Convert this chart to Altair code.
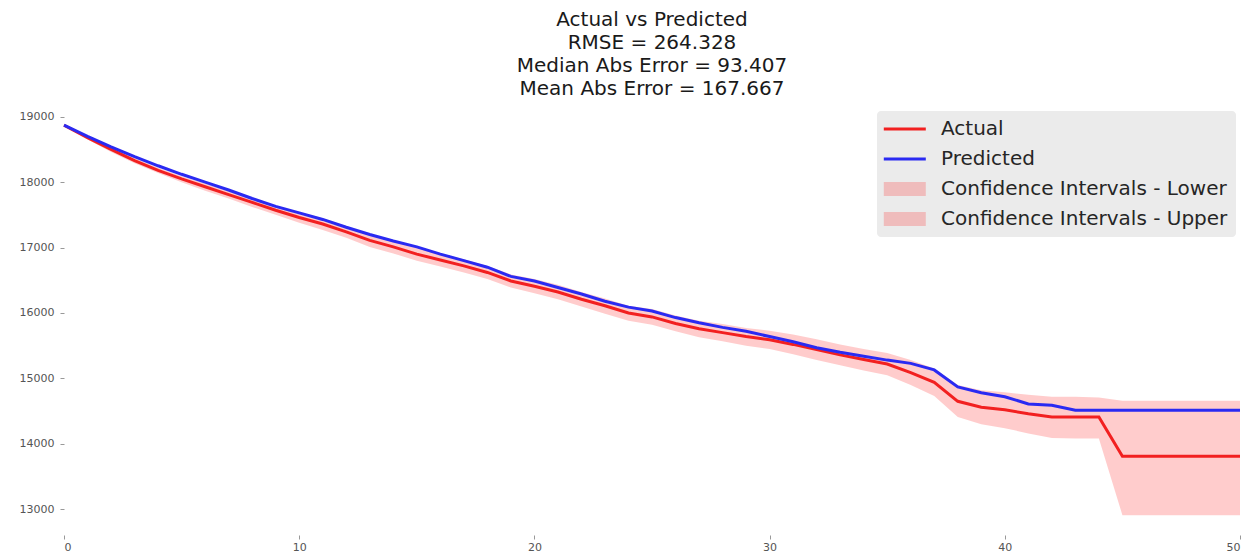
import altair as alt
import pandas as pd

steps = list(range(51))

actual = [18870, 18680, 18500, 18330, 18180, 18050, 17930, 17810, 17690, 17570,
          17460, 17360, 17240, 17110, 17010, 16900, 16810, 16720, 16620, 16490,
          16410, 16320, 16210, 16110, 16000, 15940, 15840, 15760, 15700, 15640,
          15590, 15520, 15440, 15360, 15290, 15220, 15090, 14940, 14650, 14560,
          14520, 14460, 14410, 14410, 14410, 13810, 13810, 13810, 13810, 13810,
          13810]

predicted = [18870, 18700, 18540, 18390, 18250, 18120, 18000, 17880, 17750, 17630,
             17530, 17430, 17310, 17200, 17100, 17010, 16900, 16800, 16700, 16560,
             16490, 16390, 16290, 16180, 16090, 16030, 15930, 15850, 15780, 15720,
             15640, 15560, 15470, 15400, 15340, 15280, 15230, 15130, 14870, 14780,
             14720, 14610, 14590, 14514, 14514, 14514, 14514, 14514, 14514, 14514,
             14514]

ci_upper = [18880, 18710, 18540, 18370, 18220, 18090, 17980, 17870, 17750, 17640,
            17540, 17450, 17330, 17200, 17110, 17000, 16910, 16820, 16720, 16590,
            16520, 16430, 16320, 16220, 16110, 16060, 15960, 15880, 15830, 15770,
            15730, 15670, 15600, 15520, 15450, 15390, 15280, 15150, 14900, 14820,
            14790, 14750, 14720, 14720, 14710, 14660, 14660, 14660, 14660, 14660,
            14660]

ci_lower = [18860, 18650, 18460, 18290, 18140, 18000, 17870, 17750, 17620, 17500,
            17380, 17270, 17150, 17010, 16910, 16800, 16710, 16620, 16520, 16390,
            16300, 16210, 16100, 15990, 15880, 15820, 15720, 15630, 15570, 15500,
            15450, 15370, 15280, 15200, 15120, 15050, 14900, 14730, 14410, 14300,
            14240, 14160, 14090, 14080, 14080, 12910, 12910, 12910, 12910, 12910,
            12910]

x_ticks = [0, 10, 20, 30, 40, 50]
y_ticks = [13000, 14000, 15000, 16000, 17000, 18000, 19000]

title_lines = ["Actual vs Predicted", "RMSE = 264.328",
               "Median Abs Error = 93.407", "Mean Abs Error = 167.667"]

series_names = ["Actual", "Predicted",
                "Confidence Intervals - Lower", "Confidence Intervals - Upper"]
series_colors = ["#f22020", "#2a2af2", "rgba(255,0,0,0.2)", "rgba(255,0,0,0.2)"]

lines_df = pd.DataFrame({
    "step": steps * 2,
    "value": actual + predicted,
    "series": ["Actual"] * len(steps) + ["Predicted"] * len(steps),
})

band_df = pd.DataFrame({
    "step": steps * 2,
    "lo": ci_lower + actual,
    "hi": actual + ci_upper,
    "series": [series_names[2]] * len(steps) + [series_names[3]] * len(steps),
})

is_line = "indexof(['Actual','Predicted'], datum.value) >= 0"

color = alt.Color(
    "series:N",
    scale=alt.Scale(domain=series_names, range=series_colors),
    legend=alt.Legend(
        title=None,
        orient="none",
        legendX=813,
        legendY=6,
        fillColor="#ebebeb",
        cornerRadius=4,
        padding=8,
        labelFont="DejaVu Sans",
        labelFontSize=20,
        labelColor="#262626",
        labelLimit=400,
        symbolType=alt.ExprRef(is_line + " ? 'M-1.6,0H4.4' : 'M-1.6,-1H4.4V1H-1.6Z'"),
        symbolSize=196,
        symbolStrokeWidth=alt.ExprRef(is_line + " ? 3 : 0"),
        symbolOpacity=1,
        labelOffset=36,
        rowPadding=10,
    ),
)

x_enc = alt.X(
    "step:Q",
    scale=alt.Scale(domain=[0, 50], nice=False),
    axis=alt.Axis(values=x_ticks, title=None, domain=False, grid=False,
                  tickSize=4, tickColor="#999999", labelColor="#555555",
                  labelFontSize=11, labelFont="DejaVu Sans", labelPadding=2),
)

y_axis = alt.Axis(values=y_ticks, title=None, domain=False, grid=False, format="d",
                  tickSize=4, tickColor="#999999", labelColor="#555555",
                  labelFontSize=11, labelFont="DejaVu Sans", labelPadding=6)
y_scale = alt.Scale(domain=[12607, 19179], nice=False, zero=False)

band = alt.Chart(band_df).mark_area(interpolate="linear").encode(
    x=x_enc,
    y=alt.Y("lo:Q", scale=y_scale, axis=y_axis),
    y2="hi:Q",
    color=color,
)

lines = alt.Chart(lines_df).mark_line(strokeWidth=3).encode(
    x=x_enc,
    y=alt.Y("value:Q", scale=y_scale, axis=y_axis),
    color=color,
)

chart = alt.layer(band, lines).properties(
    width=1176,
    height=430,
    padding={"left": 56, "top": 97, "right": 12, "bottom": 20},
    autosize=alt.AutoSizeParams(type="none"),
    title=alt.TitleParams(text=title_lines, fontSize=20, font="DejaVu Sans",
                          fontWeight="normal", color="#1a1a1a", anchor="middle",
                          offset=6, lineHeight=23),
).configure(background="white").configure_view(stroke=None)

chart.save("out.html", embed_options={"renderer": "svg", "actions": False})
